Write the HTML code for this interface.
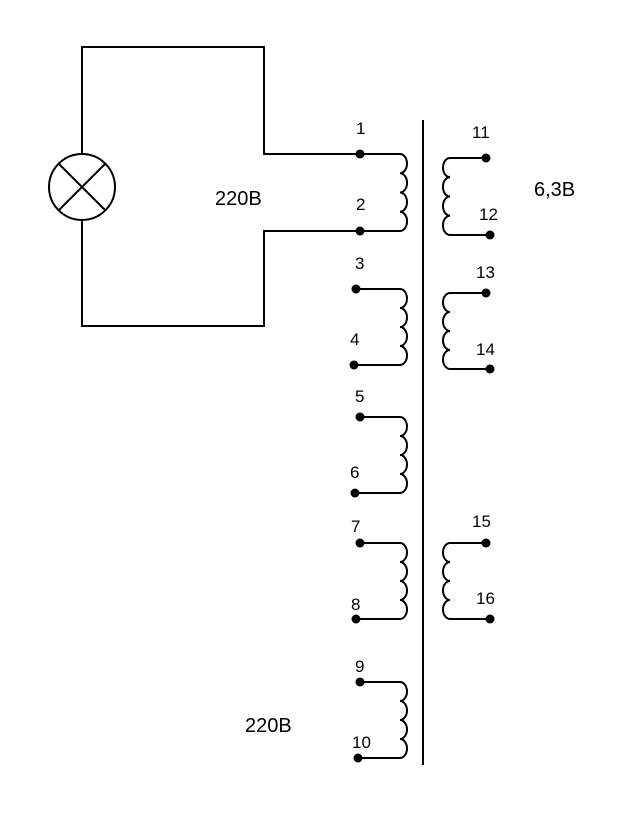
<!DOCTYPE html>
<html><head><meta charset="utf-8"><style>
html,body{margin:0;padding:0;background:#fff;}
svg{display:block;}
text{font-family:"Liberation Sans",Arial,sans-serif;fill:#000;}
</style></head><body>
<svg width="634" height="813" viewBox="0 0 634 813" xmlns="http://www.w3.org/2000/svg">
<g fill="none" stroke="#000" stroke-width="2">
<path d="M82 154 V47 H264 V154 H360"/>
<path d="M82 220 V326 H264 V231 H360"/>
<circle cx="82" cy="187" r="33"/>
<line x1="59" y1="164" x2="105" y2="210"/>
<line x1="105" y1="164" x2="59" y2="210"/>
<line x1="423" y1="120" x2="423" y2="765"/>
<path d="M360 154 H400 A7 9.6 0 0 1 400 173.2 A7 9.6 0 0 1 400 192.5 A7 9.6 0 0 1 400 211.7 A7 9.6 0 0 1 400 231 H360"/>
<path d="M356 289 H400 A7 9.5 0 0 1 400 308 A7 9.5 0 0 1 400 327 A7 9.5 0 0 1 400 346 A7 9.5 0 0 1 400 365 H354"/>
<path d="M360 417 H400 A7 9.5 0 0 1 400 436 A7 9.5 0 0 1 400 455 A7 9.5 0 0 1 400 474 A7 9.5 0 0 1 400 493 H355"/>
<path d="M360 543 H400 A7 9.5 0 0 1 400 562 A7 9.5 0 0 1 400 581 A7 9.5 0 0 1 400 600 A7 9.5 0 0 1 400 619 H356"/>
<path d="M360 682 H400 A7 9.5 0 0 1 400 701 A7 9.5 0 0 1 400 720 A7 9.5 0 0 1 400 739 A7 9.5 0 0 1 400 758 H358"/>
<path d="M486 158 H450 A7 9.6 0 0 0 450 177.2 A7 9.6 0 0 0 450 196.5 A7 9.6 0 0 0 450 215.7 A7 9.6 0 0 0 450 235 H490"/>
<path d="M486 293 H450 A7 9.5 0 0 0 450 312 A7 9.5 0 0 0 450 331 A7 9.5 0 0 0 450 350 A7 9.5 0 0 0 450 369 H490"/>
<path d="M486 543 H450 A7 9.5 0 0 0 450 562 A7 9.5 0 0 0 450 581 A7 9.5 0 0 0 450 600 A7 9.5 0 0 0 450 619 H490"/>
</g>
<g fill="#000">
<circle cx="360" cy="154" r="4.5"/><circle cx="360" cy="231" r="4.5"/>
<circle cx="356" cy="289" r="4.5"/><circle cx="354" cy="365" r="4.5"/>
<circle cx="360" cy="417" r="4.5"/><circle cx="355" cy="493" r="4.5"/>
<circle cx="360" cy="543" r="4.5"/><circle cx="356" cy="619" r="4.5"/>
<circle cx="360" cy="682" r="4.5"/><circle cx="358" cy="758" r="4.5"/>
<circle cx="486" cy="158" r="4.5"/><circle cx="490" cy="235" r="4.5"/>
<circle cx="486" cy="293" r="4.5"/><circle cx="490" cy="369" r="4.5"/>
<circle cx="486" cy="543" r="4.5"/><circle cx="490" cy="619" r="4.5"/>
</g>
<g font-size="17">
<text x="356" y="134">1</text>
<text x="356" y="210">2</text>
<text x="355" y="269">3</text>
<text x="350" y="345">4</text>
<text x="355" y="402">5</text>
<text x="350" y="478">6</text>
<text x="351" y="532">7</text>
<text x="351" y="610">8</text>
<text x="355" y="672">9</text>
<text x="352" y="748">10</text>
<text x="472" y="138">11</text>
<text x="479" y="220">12</text>
<text x="476" y="278">13</text>
<text x="476" y="355">14</text>
<text x="472" y="527">15</text>
<text x="476" y="604">16</text>
</g>
<g font-size="20">
<text x="215" y="205">220B</text>
<text x="534" y="196">6,3B</text>
<text x="245" y="732">220B</text>
</g>
</svg>
</body></html>
